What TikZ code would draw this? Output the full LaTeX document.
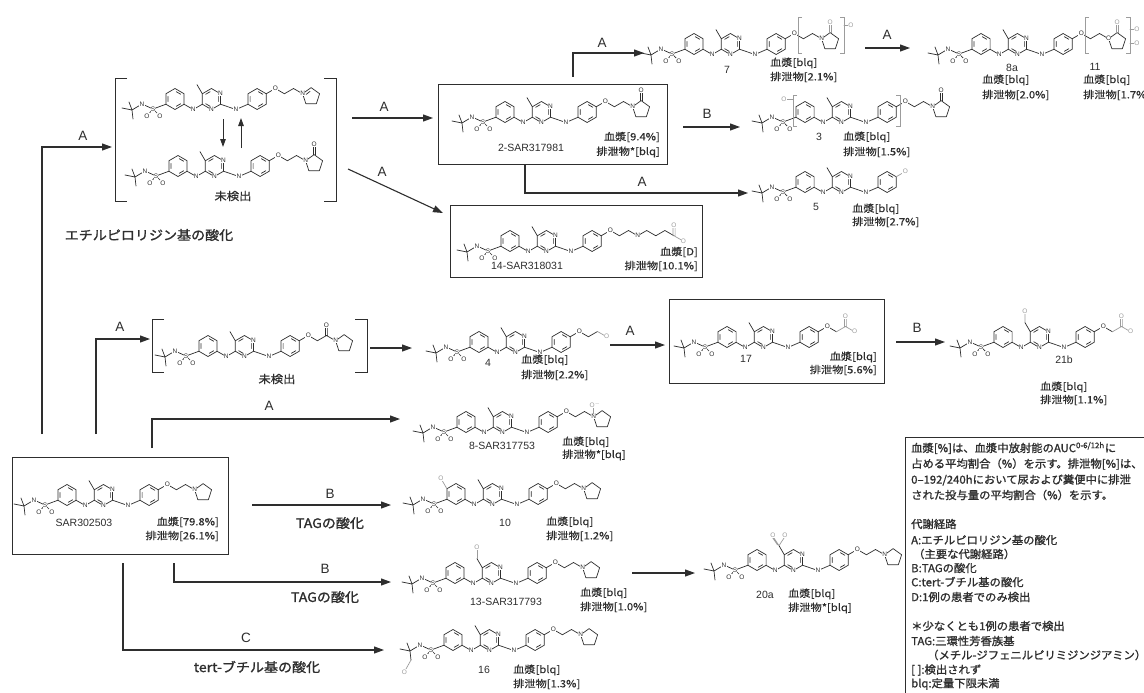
\documentclass[tikz,border=0pt]{standalone}
\usepackage{fontspec}
\setmainfont{Liberation Sans}
\newfontfamily\jp{Noto Sans CJK JP}[FakeBold=0.5,FakeStretch=1.12]
\newfontfamily\jpbold{Noto Sans CJK JP}[FakeBold=1.3,FakeStretch=1.08]
\newfontfamily\jplegend{Noto Sans CJK JP}[FakeBold=1.2,FakeStretch=1.03]
\usetikzlibrary{arrows.meta}
\pgfdeclarelayer{paper}
\pgfdeclarelayer{bondlayer}
\pgfsetlayers{paper,bondlayer,main}
\definecolor{ink}{HTML}{2E2E2E}
\definecolor{modc}{HTML}{9C9C9C}
\tikzset{
 bond/.style={line width=0.7pt, draw=ink, line cap=round, line join=round},
 gbond/.style={bond, draw=modc},
 atom/.style={font=\fontsize{6.5}{6.5}\selectfont, inner sep=0.3pt, fill=white, text=ink},
 gatom/.style={atom, text=modc},
 conn/.style={line width=1.1pt, draw=ink},
 arr/.style={conn, -{Triangle[length=10pt,width=7pt]}},
 sarr/.style={line width=1pt, draw=ink, -{Triangle[length=8pt,width=5.5pt]}},
 rlab/.style={font=\fontsize{13.5}{13.5}\selectfont, text=ink, inner sep=0pt},
 jlab/.style={font=\jpbold\fontsize{13}{13}\selectfont, text=ink, inner sep=0pt},
 cnum/.style={font=\fontsize{10.5}{10.5}\selectfont, text=ink, inner sep=0pt},
 dat/.style={font=\jp\fontsize{10}{10}\selectfont, text=ink, inner sep=0pt},
 und/.style={font=\jp\fontsize{11}{11}\selectfont, text=ink, inner sep=0pt},
 frame/.style={line width=0.9pt, draw=ink},
 leg/.style={font=\jplegend\fontsize{11}{11}\selectfont, text=ink, anchor=west, inner sep=0pt},
 brk/.style={line width=1pt, draw=ink},
 gbrk/.style={line width=0.7pt, draw=modc},
}
% ---------- molecule building blocks (local coords, px, y down) ----------
\newcommand\hexr[2]{%
 \draw[bond] (#1,#2) +(-90:10.5) -- +(-30:10.5) -- +(30:10.5) -- +(90:10.5) -- +(150:10.5) -- +(210:10.5) -- cycle;
 \draw[bond] (#1,#2) +(-80:7.4) -- +(-40:7.4) +(40:7.4) -- +(80:7.4) +(160:7.4) -- +(200:7.4);}
\newcommand\pyrim{%
 \draw[bond] (79.4,-11) +(-90:10.5) -- +(-30:10.5) -- +(30:10.5) -- +(90:10.5) -- +(150:10.5) -- +(210:10.5) -- cycle;
 \draw[bond] (79.4,-11) +(-140:7.4) -- +(-100:7.4) +(-20:7.4) -- +(20:7.4) +(100:7.4) -- +(140:7.4);}
\newcommand\coreb{%
 \draw[bond] (-10,-2)--(0,0)--(-3,-8) (0,0)--(1,9) (0,0)--(10,-6)--(21,-1)--(15,6) (21,-1)--(28,6) (21,-1)--(33.9,-5.75);
 \hexr{43}{-11}
 \draw[bond] (52.1,-5.75)--(61.2,-0.5)--(70.3,-5.75);
 \pyrim
 \draw[bond] (70.3,-16.25)--(65,-25.35);
 \draw[bond] (88.5,-5.75)--(104,-0.5)--(116,-5.75);
 \hexr{125.1}{-11}}
\newcommand\corel{%
 \node[atom] at (10,-6) {N}; \node[atom] at (21,-1) {S};
 \node[atom] at (15,6) {O}; \node[atom] at (28,6) {O};
 \node[atom] at (61.2,-0.5) {N}; \node[atom] at (88.5,-16.25) {N};
 \node[atom] at (79.4,-0.5) {N}; \node[atom] at (104,-0.5) {N};}
\newcommand\ophb[1][bond]{\draw[#1] (134.2,-16.25)--(143.3,-21.5);}
\newcommand\etb{\draw[bond] (143.3,-21.5)--(152.4,-16.25)--(161.5,-21.5)--(170.6,-16.25);}
\newcommand\etl{\node[atom] at (143.3,-21.5) {O}; \node[atom] at (170.6,-16.25) {N};}
\newcommand\pyrb{\draw[bond] (170.6,-16.25)--(179.1,-22.4)--(187.6,-16.25)--(184.35,-6.28)--(173.85,-6.28)--cycle;}
\newcommand\carbb[1]{\draw[#1] (178,-22.4)--(178,-31) (180.2,-22.4)--(180.2,-31);}
\newcommand\carbl[1][atom]{\node[#1] at (179.1,-33) {O};}
\newcommand\lbr[5]{\draw[#1] ({#2+#5},#3) -- (#2,#3) -- (#2,#4) -- ({#2+#5},#4);}
\newcommand\rbr[5]{\draw[#1] ({#2-#5},#3) -- (#2,#3) -- (#2,#4) -- ({#2-#5},#4);}
\newcommand\molx[3]{\begin{scope}[shift={#1}]\begin{pgfonlayer}{bondlayer}\coreb#2\end{pgfonlayer}\corel#3\end{scope}}

\begin{document}
\begin{tikzpicture}[x=1pt,y=-1pt]
\useasboundingbox (0,0) rectangle (1144,693);
\begin{pgfonlayer}{paper}\fill[white] (0,0) rectangle (1144,693);\end{pgfonlayer}
\clip (0,0) rectangle (1144,693);

% ---------------- molecules ----------------
% bracket 1 (iminium / lactam)
\molx{(132,110)}{\ophb\etb\pyrb\draw[bond] (174.2,-15.6)--(178,-18.6);}{\etl}
\molx{(135,177)}{\ophb\etb\pyrb\carbb{bond}}{\etl\carbl}
% bracket 2 (amide)
\molx{(165,357)}{\ophb\draw[bond] (143.3,-21.5)--(152.4,-16.25)--(161.5,-21.5)--(170.6,-16.25) (160.4,-21.5)--(160.4,-30) (162.6,-21.5)--(162.6,-30);\pyrb}{\etl\node[atom] at (161.5,-32) {O};}
% SAR302503
\molx{(24,506)}{\ophb\etb\pyrb}{\etl}
% 2-SAR317981
\molx{(462,123)}{\ophb\etb\pyrb\carbb{bond}}{\etl\carbl}
% 7
\molx{(651,55)}{\ophb\etb\pyrb\carbb{gbond}\lbr{gbrk}{147}{-38}{-2}{4}\rbr{gbrk}{193}{-38}{-2}{4}\draw[gbond] (193,-30)--(197,-30);}{\etl\carbl[gatom]\node[gatom] at (200,-30) {O};}
% 8a / 11
\molx{(938,55)}{\ophb\draw[bond] (143.3,-21.5)--(152.4,-16.25)--(161.5,-21.5)--(170.6,-16.25);\pyrb\carbb{gbond}\lbr{gbrk}{147}{-38}{-2}{4}\rbr{gbrk}{192}{-38}{-2}{4}\draw[gbond] (192,-26)--(196,-26) (192,-12)--(196,-12);}{\node[atom] at (143.3,-21.5) {O};\node[atom] at (170.6,-16.25) {O};\carbl[gatom]\node[gatom] at (199,-26) {O};\node[gatom] at (199,-12) {O};}
% 3
\molx{(762,123)}{\ophb\etb\pyrb\carbb{bond}\lbr{gbrk}{31}{-28}{3}{4}\rbr{gbrk}{138}{-28}{3}{4}\draw[gbond] (31,-24)--(25,-24);}{\etl\carbl\node[gatom] at (22,-24) {O};}
% 5
\molx{(762,193)}{\ophb[gbond]}{\node[gatom] at (143.3,-21.5) {O};}
% 14-SAR318031
\molx{(467,252)}{\ophb\etb\draw[bond] (170.6,-16.25)--(179.7,-21.5)--(188.8,-16.25)--(197.9,-21.5)--(207,-16.25);\draw[gbond] (205.9,-16.25)--(205.9,-25) (208.1,-16.25)--(208.1,-25) (207,-16.25)--(215,-11.6);}{\etl\node[gatom] at (207,-27) {O};\node[gatom] at (216.5,-10.8) {O};}
% 4
\molx{(436,353)}{\ophb\draw[bond] (143.3,-21.5)--(152.4,-16.25)--(161.5,-21.5);\draw[gbond] (161.5,-21.5)--(170.6,-16.25);}{\node[atom] at (143.3,-21.5) {O};\node[gatom] at (170.6,-16.25) {O};}
% 17
\molx{(684,348)}{\ophb\draw[bond] (143.3,-21.5)--(152.4,-16.25);\draw[gbond] (152.4,-16.25)--(161.5,-21.5)--(170.6,-16.25) (160.4,-21.5)--(160.4,-30) (162.6,-21.5)--(162.6,-30);}{\node[atom] at (143.3,-21.5) {O};\node[gatom] at (161.5,-32) {O};\node[gatom] at (170.6,-16.25) {O};}
% 21b
\molx{(960,348)}{\ophb\draw[bond] (143.3,-21.5)--(152.4,-16.25);\draw[gbond] (152.4,-16.25)--(161.5,-21.5)--(170.6,-16.25) (160.4,-21.5)--(160.4,-30) (162.6,-21.5)--(162.6,-30) (65,-25.35)--(65,-34);}{\node[atom] at (143.3,-21.5) {O};\node[gatom] at (161.5,-32) {O};\node[gatom] at (170.6,-16.25) {O};\node[gatom] at (65,-36.5) {O};}
% 8-SAR317753
\molx{(423,433)}{\ophb\etb\pyrb\draw[gbond] (170.6,-16.25)--(170.6,-25);}{\etl\node[gatom] at (172,-28) {O$^{-}$};}
% 10
\molx{(413,505)}{\ophb\etb\pyrb\draw[gbond] (33.9,-16.25)--(28.65,-25.35);}{\etl\node[gatom] at (28,-27) {O};}
% 13-SAR317793
\molx{(412,584)}{\ophb\etb\pyrb\draw[gbond] (65,-25.35)--(65,-34);}{\etl\node[gatom] at (65,-36.5) {O};}
% 20a
\molx{(714,571)}{\ophb\etb\pyrb\draw[gbond] (65,-25.35)--(60,-33) (63.4,-26.2)--(58.4,-33.6) (65,-25.35)--(70,-33);}{\etl\node[gatom] at (59,-35.5) {O};\node[gatom] at (71,-35.5) {O};}
% 16
\molx{(410,651)}{\ophb\etb\pyrb\draw[gbond] (1,9)--(-4,18);}{\etl\node[gatom] at (-5.5,21) {O};}

% ---------------- brackets and boxes ----------------
\lbr{brk}{115}{79}{201}{12}
\rbr{brk}{336}{79}{201}{12}
\lbr{brk}{152}{319}{372}{12}
\rbr{brk}{367}{319}{372}{12}
\draw[frame] (438,84) rectangle (667,164);
\draw[frame] (450,205) rectangle (702,277);
\draw[frame] (669.5,299) rectangle (884,383);
\draw[frame] (12,457) rectangle (228,554);
\draw[frame] (905,437) rectangle (1160,710);

% ---------------- connectors ----------------
\coordinate (iu1) at (223,119); \coordinate (iu2) at (223,147);
\coordinate (iv1) at (241,148); \coordinate (iv2) at (241,118);
\draw[sarr] (iu1) -- (iu2);
\draw[sarr] (iv1) -- (iv2);

\coordinate (p1) at (42,434);  \coordinate (q1) at (112,147);
\coordinate (p2) at (96,434);  \coordinate (q2) at (150,339);
\coordinate (p3) at (152,448); \coordinate (q3) at (400,419);
\coordinate (p4) at (252,505); \coordinate (q4) at (391,505);
\coordinate (p5) at (174,563); \coordinate (q5) at (391,582);
\coordinate (p6) at (123,563); \coordinate (q6) at (384,650);
\coordinate (p7) at (352,118); \coordinate (q7) at (433,118);
\coordinate (p8) at (348,169); \coordinate (q8) at (443,213);
\coordinate (p9) at (573,77);  \coordinate (q9) at (644,53);
\coordinate (p10) at (683,127); \coordinate (q10) at (740,127);
\coordinate (p11) at (525,164); \coordinate (q11) at (748,193);
\coordinate (p12) at (865,48);  \coordinate (q12) at (910,48);
\coordinate (p13) at (370,348); \coordinate (q13) at (412,348);
\coordinate (p14) at (610,345); \coordinate (q14) at (665,345);
\coordinate (p15) at (896,342); \coordinate (q15) at (945,342);
\coordinate (p16) at (632,573); \coordinate (q16) at (695,573);
\draw[arr] (p1) |- (q1);
\draw[arr] (p2) |- (q2);
\draw[arr] (p3) |- (q3);
\draw[arr] (p4) -- (q4);
\draw[arr] (p5) |- (q5);
\draw[arr] (p6) |- (q6);
\draw[arr] (p7) -- (q7);
\draw[arr] (p8) -- (q8);
\draw[arr] (p9) |- (q9);
\draw[arr] (p10) -- (q10);
\draw[arr] (p11) |- (q11);
\draw[arr] (p12) -- (q12);
\draw[arr] (p13) -- (q13);
\draw[arr] (p14) -- (q14);
\draw[arr] (p15) -- (q15);
\draw[arr] (p16) -- (q16);

% route labels
\node[rlab] (l1) at (83,136) {A};
\node[rlab] (l2) at (120,327) {A};
\node[rlab] (l3) at (269,406) {A};
\node[rlab] (l4) at (330,494) {B};
\node[rlab] (l5) at (325,569) {B};
\node[rlab] (l6) at (246,638) {C};
\node[rlab] (l7) at (384,107) {A};
\node[rlab] (l8) at (382,172) {A};
\node[rlab] (l9) at (602,43) {A};
\node[rlab] (l10) at (707,114) {B};
\node[rlab] (l11) at (642,182) {A};
\node[rlab] (l12) at (887,35) {A};
\node[rlab] (l13) at (630,331) {A};
\node[rlab] (l14) at (917,328) {B};
\node[jlab] (j1) at (149,235) {エチルピロリジン基の酸化};
\node[jlab] (j2) at (330,523) {TAGの酸化};
\node[jlab] (j3) at (325,597) {TAGの酸化};
\node[jlab] (j4) at (257,667) {tert-ブチル基の酸化};
\node[und] (u1) at (233,196) {未検出};
\node[und] (u2) at (277,379) {未検出};

% compound names
\node[cnum] (c1) at (531,148) {2-SAR317981};
\node[cnum] (c2) at (727,70) {7};
\node[cnum] (c3) at (1012,68) {8a};
\node[cnum] (c4) at (1095,67) {11};
\node[cnum] (c5) at (819,137) {3};
\node[cnum] (c6) at (816,207) {5};
\node[cnum] (c7) at (527,266) {14-SAR318031};
\node[cnum] (c8) at (488,363) {4};
\node[cnum] (c9) at (746,359) {17};
\node[cnum] (c10) at (1064,360) {21b};
\node[cnum] (c11) at (84,523) {SAR302503};
\node[cnum] (c12) at (502,446) {8-SAR317753};
\node[cnum] (c13) at (505,523) {10};
\node[cnum] (c14) at (506,602) {13-SAR317793};
\node[cnum] (c15) at (765,595) {20a};
\node[cnum] (c16) at (484,670) {16};

% plasma / excreta data
\node[dat,anchor=east] (d1a) at (660,137) {血漿[9.4\%]};
\node[dat,anchor=east] (d1b) at (660,152) {排泄物*[blq]};
\node[dat,anchor=west] (d2a) at (770,63) {血漿[blq]};
\node[dat,anchor=west] (d2b) at (770,77) {排泄物[2.1\%]};
\node[dat,anchor=west] (d3a) at (982,80) {血漿[blq]};
\node[dat,anchor=west] (d3b) at (982,95) {排泄物[2.0\%]};
\node[dat,anchor=west] (d4a) at (1083,80) {血漿[blq]};
\node[dat,anchor=west] (d4b) at (1083,95) {排泄物[1.7\%]};
\node[dat,anchor=west] (d5a) at (843,137) {血漿[blq]};
\node[dat,anchor=west] (d5b) at (843,152) {排泄物[1.5\%]};
\node[dat,anchor=west] (d6a) at (852,209) {血漿[blq]};
\node[dat,anchor=west] (d6b) at (852,222) {排泄物[2.7\%]};
\node[dat,anchor=east] (d7a) at (698,252) {血漿[D]};
\node[dat,anchor=east] (d7b) at (698,266) {排泄物[10.1\%]};
\node[dat,anchor=west] (d8a) at (521,360) {血漿[blq]};
\node[dat,anchor=west] (d8b) at (521,375) {排泄物[2.2\%]};
\node[dat,anchor=east] (d9a) at (877,357) {血漿[blq]};
\node[dat,anchor=east] (d9b) at (877,370) {排泄物[5.6\%]};
\node[dat,anchor=west] (d10a) at (1040,387) {血漿[blq]};
\node[dat,anchor=west] (d10b) at (1040,400) {排泄物[1.1\%]};
\node[dat,anchor=east] (d11a) at (219,522) {血漿[79.8\%]};
\node[dat,anchor=east] (d11b) at (219,536) {排泄物[26.1\%]};
\node[dat,anchor=west] (d12a) at (562,442) {血漿[blq]};
\node[dat,anchor=west] (d12b) at (562,455) {排泄物*[blq]};
\node[dat,anchor=west] (d13a) at (546,522) {血漿[blq]};
\node[dat,anchor=west] (d13b) at (546,536) {排泄物[1.2\%]};
\node[dat,anchor=west] (d14a) at (580,593) {血漿[blq]};
\node[dat,anchor=west] (d14b) at (580,607) {排泄物[1.0\%]};
\node[dat,anchor=west] (d15a) at (788,594) {血漿[blq]};
\node[dat,anchor=west] (d15b) at (788,608) {排泄物*[blq]};
\node[dat,anchor=west] (d16a) at (513,670) {血漿[blq]};
\node[dat,anchor=west] (d16b) at (513,684) {排泄物[1.3\%]};

% legend
\node[leg] (g1) at (911,448) {血漿[\%]は、血漿中放射能のAUC\textsuperscript{0-6/12h}に};
\node[leg] (g2) at (911,464) {占める平均割合（\%）を示す。排泄物[\%]は、};
\node[leg] (g3) at (911,480) {0–192/240hにおいて尿および糞便中に排泄};
\node[leg] (g4) at (911,495) {された投与量の平均割合（\%）を示す。};
\node[leg] (g5) at (911,524) {代謝経路};
\node[leg] (g6) at (911,540) {A:エチルピロリジン基の酸化};
\node[leg] (g7) at (913,554) {（主要な代謝経路）};
\node[leg] (g8) at (911,568) {B:TAGの酸化};
\node[leg] (g9) at (911,582) {C:tert-ブチル基の酸化};
\node[leg] (g10) at (911,597) {D:1例の患者でのみ検出};
\node[leg] (g11) at (911,626) {＊少なくとも1例の患者で検出};
\node[leg] (g12) at (911,641) {TAG:三環性芳香族基};
\node[leg] (g13) at (927,655) {（メチル-ジフェニルピリミジンジアミン）};
\node[leg] (g14) at (911,670) {[ ]:検出されず};
\node[leg] (g15) at (911,684) {blq:定量下限未満};
\end{tikzpicture}
\end{document}
